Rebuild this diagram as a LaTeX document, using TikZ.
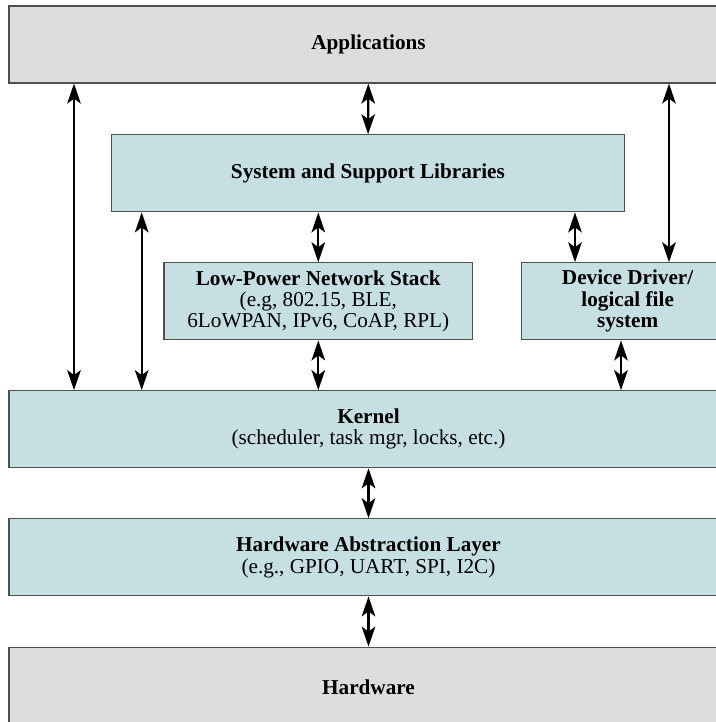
\documentclass[tikz,border=0pt]{standalone}
\usepackage{fontspec}
\setmainfont{Liberation Serif}
\usepackage{tikz}
\usetikzlibrary{arrows.meta}
\definecolor{LGray}{RGB}{221,221,221}
\definecolor{LTeal}{RGB}{197,223,226}
\definecolor{Edge}{RGB}{80,80,80}

\begin{document}
\begin{tikzpicture}[
    x=0.5pt, y=-0.5pt,
    layer/.style={
      draw=Edge,
      line width=0.6pt,
      minimum height=38.5pt,
      align=center,
      inner sep=0pt,
      font=\fontsize{10.6}{10.7}\selectfont
    },
    hwlayer/.style={layer, fill=LGray},
    swlayer/.style={layer, fill=LTeal},
    dblarrow/.style={{Stealth[length=10pt,width=6.8pt,inset=2.5pt]}-{Stealth[length=10pt,width=6.8pt,inset=2.5pt]}, line width=1.1pt}
  ]
    \path[use as bounding box] (0,0) rectangle (716,722);
    \clip (0,0) rectangle (716,722);

    \node[hwlayer, minimum width=359.5pt] (apps) at (368.5,44.5) {\textbf{Applications}};
    \node[swlayer, minimum width=256.2pt] (libs) at (367.9,173.3) {\textbf{System and Support Libraries}};
    \node[swlayer, minimum width=154.3pt] (net) at (318.3,301.3)
      {\textbf{Low-Power Network Stack}\\(e.g, 802.15, BLE,\\6LoWPAN, IPv6, CoAP, RPL)};
    \node[swlayer, minimum width=106pt] (dev) at (627.7,301.3)
      {\textbf{Device Driver/}\\\textbf{logical file}\\\textbf{system}};
    \node[swlayer, minimum width=359.5pt] (kernel) at (368.5,429.2)
      {\textbf{Kernel}\\(scheduler, task mgr, locks, etc.)};
    \node[swlayer, minimum width=359.5pt] (hal) at (368.5,557.3)
      {\textbf{Hardware Abstraction Layer}\\(e.g., GPIO, UART, SPI, I2C)};
    \node[hwlayer, minimum width=359.5pt, minimum height=40pt] (hw) at (368.5,687.2) {\textbf{Hardware}};

    % columns of the connectors
    \coordinate (cA) at (74,0);
    \coordinate (cB) at (141.7,0);
    \coordinate (cD) at (575,0);
    \coordinate (cE) at (669,0);
    \coordinate (cF) at (621,0);

    \draw[dblarrow] (apps.south -| cA) -- (kernel.north -| cA);
    \draw[dblarrow] (libs.south -| cB) -- (kernel.north -| cB);
    \draw[dblarrow] (apps) -- (libs);
    \draw[dblarrow] (libs.south -| net) -- (net);
    \draw[dblarrow] (libs.south -| cD) -- (dev.north -| cD);
    \draw[dblarrow] (apps.south -| cE) -- (dev.north -| cE);
    \draw[dblarrow] (net) -- (kernel.north -| net);
    \draw[dblarrow] (dev.south -| cF) -- (kernel.north -| cF);
    \draw[dblarrow] (kernel) -- (hal);
    \draw[dblarrow] (hal) -- (hw);
  \end{tikzpicture}
\end{document}
